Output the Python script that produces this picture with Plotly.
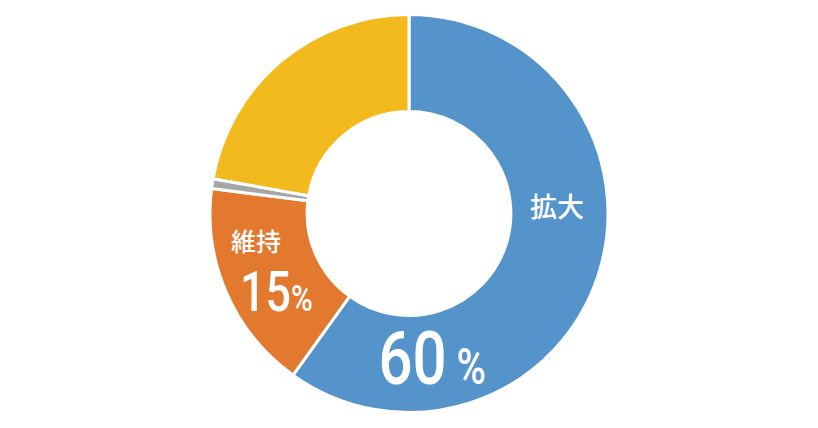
import plotly.graph_objects as go

categories = ["拡大", "維持", "その他", "縮小"]
values = [59.9, 17.1, 0.8, 22.2]
colors = ["#5594CA", "#E2792F", "#A6A6A6", "#F3BA1D"]

W, H = 818, 428
NUM_FONT = "Roboto, sans-serif"
JP_FONT = "Noto Sans CJK JP, sans-serif"

fig = go.Figure(go.Pie(
    labels=categories,
    values=values,
    hole=0.512,
    sort=False,
    direction="clockwise",
    rotation=0,
    marker=dict(colors=colors, line=dict(color="white", width=3)),
    textinfo="none",
    hoverinfo="label+percent",
    showlegend=False,
    domain=dict(x=[0, 1], y=[15.5 / H, 1 - 14.5 / H]),
))

def px(x, y):
    return x / W, 1 - y / H

labels = [
    ("拡大", 557, 205, 27, JP_FONT, 500),
    ("維持", 256, 240, 25, JP_FONT, 500),
    ("60<span style='font-size:50px'> %</span>", 432, 358, 75, NUM_FONT, 500),
    ("15<span style='font-size:37px'>%</span>", 276, 292, 56, NUM_FONT, 500),
]
for text, x, y, size, fam, wt in labels:
    ax, ay = px(x, y)
    fig.add_annotation(x=ax, y=ay, xref="paper", yref="paper", text=text,
                       showarrow=False, xanchor="center", yanchor="middle",
                       font=dict(family=fam, size=size, color="white", weight=wt))

fig.update_layout(
    width=W, height=H,
    margin=dict(l=0, r=0, t=0, b=0),
    paper_bgcolor="white", plot_bgcolor="white",
)

post = """
document.body.style.margin='0';
document.querySelectorAll('.annotation').forEach(function(a){
  var i=a.getAttribute('data-index');
  if(i==='2'||i==='3'){
    a.querySelectorAll('text').forEach(function(t){
      t.style.transformBox='fill-box';
      t.style.transformOrigin='center';
      t.style.transform='scaleX(0.8)';
    });
  }
});
"""
fig.write_html("out.html", post_script=post, config={"displayModeBar": False})
